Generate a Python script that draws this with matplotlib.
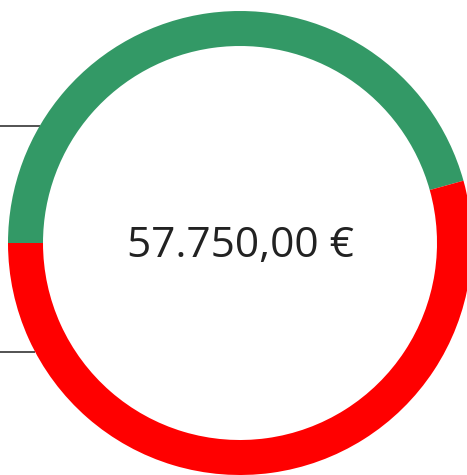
import numpy as np
import matplotlib
matplotlib.use("Agg")
import matplotlib.pyplot as plt

# donut values (EUR)
labels = ["Eigenkapital", "Fremdkapital"]
values = [26375.0, 31375.0]
colors = ["#339966", "#ff0000"]
total_text = "57.750,00 €"

W, H, DPI = 467, 475, 100
fig = plt.figure(figsize=(W / DPI, H / DPI), dpi=DPI)
ax = fig.add_axes([0, 0, 1, 1])

cx, cy = 240, H - 243
r_out, ring = 232, 35

ax.pie(values, colors=colors, startangle=180, counterclock=False,
       center=(cx, cy), radius=r_out,
       wedgeprops=dict(width=ring, linewidth=0))

# leader lines (labels sit outside the visible area)
for y_px in [126, 352]:
    dy = (H - y_px) - cy
    x_end = cx - np.sqrt(r_out ** 2 - dy ** 2)
    ax.plot([-10, x_end], [H - y_px, H - y_px], color="#444444", lw=1.3,
            solid_capstyle="butt", zorder=0)

ax.text(cx, cy - 3, total_text, ha="center", va="center",
        fontsize=30.5, color="#222222", family=["Open Sans", "DejaVu Sans"])

ax.set_xlim(0, W)
ax.set_ylim(0, H)
ax.set_aspect("equal")
ax.axis("off")

fig.savefig("out.png", dpi=DPI)
